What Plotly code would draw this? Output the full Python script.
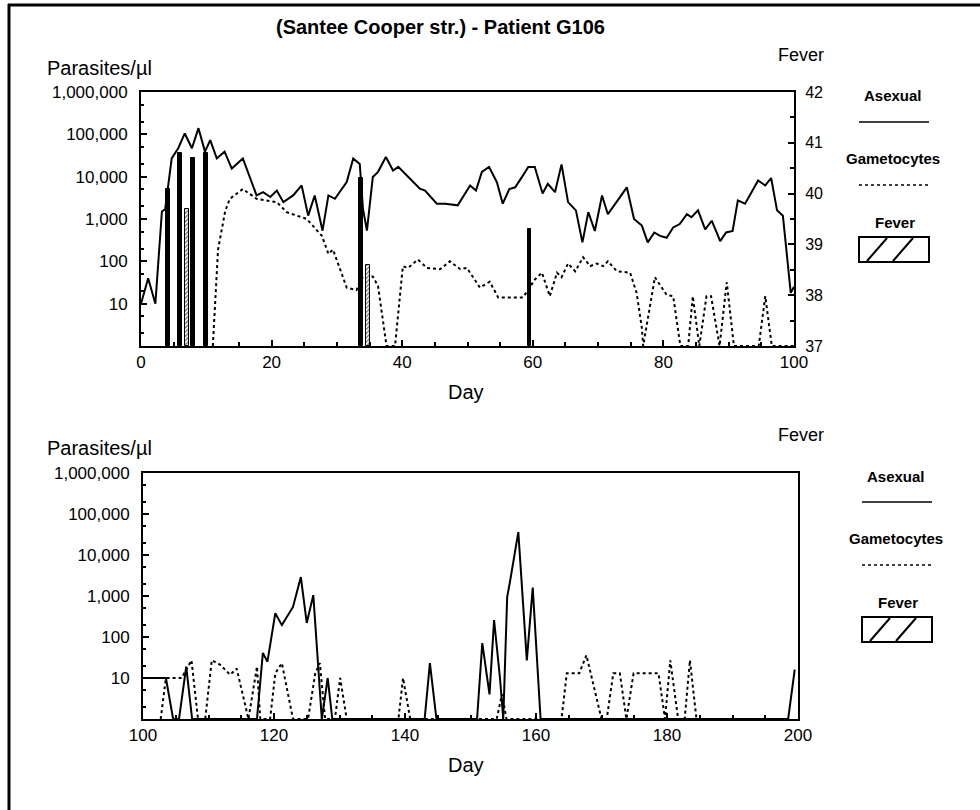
import plotly.graph_objects as go

# ---------------- DATA ----------------
# Top panel (days 0-100)
asex_top_day = [0, 1.1, 2.2, 3.2, 3.7, 4.7, 5.7, 6.7, 7.8, 8.8, 9.8, 10.6, 11.6, 12.8, 13.9, 15.6,
                17.7, 18.7, 19.8, 20.8, 21.8, 23.3, 24.6, 25.6, 26.6, 27.8, 28.7, 29.7, 31.5, 32.5,
                33.5, 34.0, 34.6, 35.5, 36.3, 37.5, 38.6, 39.4, 41.2, 42.7, 43.5, 45.3, 46.6, 48.5,
                50.4, 51.3, 52.2, 53.3, 54.5, 55.4, 56.4, 57.3, 58.5, 59.3, 60.3, 61.5, 62.3, 63.4,
                64.4, 65.4, 66.6, 67.6, 68.5, 69.5, 70.6, 71.5, 73.0, 74.4, 75.5, 76.7, 77.6, 78.6,
                79.5, 80.5, 81.5, 82.5, 83.6, 84.3, 85.3, 86.4, 87.4, 88.7, 89.6, 90.6, 91.4, 92.5,
                93.5, 94.5, 95.6, 96.5, 97.4, 98.3, 99.5, 100]
asex_top_val = [10, 40, 10, 1500, 1700, 27000, 47000, 105000, 47000, 140000, 39000, 73000, 27000,
                39000, 15500, 27000, 3600, 4300, 3300, 4700, 2500, 3600, 6200, 1200, 3600, 530, 3600,
                3000, 7500, 27000, 20000, 1700, 530, 9800, 13000, 29000, 14000, 17000, 8900, 5200,
                4700, 2300, 2300, 2100, 6200, 4700, 13000, 17000, 7400, 2300, 5100, 5600, 10700,
                17000, 17000, 4000, 6800, 4300, 19500, 2500, 1600, 280, 1450, 520, 3600, 1300, 2750,
                5600, 1000, 700, 280, 480, 400, 360, 630, 760, 1300, 1100, 1600, 570, 910, 300, 480,
                520, 2750, 2300, 4300, 8100, 6200, 9300, 1600, 1200, 18, 25]

gam_top_day = [11.0, 11.8, 12.9, 13.6, 15.6, 17.7, 20.8, 22.3, 25.4, 27.7, 28.7, 29.4, 31.5, 33.0,
               34.0, 35.5, 36.3, 37.6, 38.9, 40.1, 40.9, 42.4, 43.8, 45.8, 47.3, 48.9, 49.9, 51.9,
               53.4, 54.7, 58.5, 60.3, 61.4, 62.6, 63.7, 64.4, 65.4, 66.5, 67.7, 68.8, 69.8, 70.8,
               71.5, 72.9, 74.9, 75.9, 76.7, 76.9, 78.7, 80.5, 81.5, 82.6, 83.8, 84.5, 85.5, 86.6,
               87.3, 88.6, 89.7, 90.8, 94.6, 95.6, 96.6, 100]
gam_top_val = [1, 190, 1550, 3000, 5100, 3000, 2500, 1450, 1000, 400, 150, 190, 24, 21, 44, 44, 26,
               1, 1, 76, 70, 110, 70, 65, 100, 65, 70, 24, 33, 14, 14, 37, 54, 15, 54, 42, 89, 58,
               125, 77, 89, 77, 100, 58, 54, 18, 2.7, 1, 42, 16, 15, 1, 1, 15, 1, 15, 15, 1, 32, 1,
               1, 15, 1, 1]

fever_day = [4.1, 6.0, 7.0, 7.9, 10.0, 33.7, 34.7, 59.5]
fever_temp = [40.1, 40.8, 39.7, 40.7, 40.8, 40.3, 38.6, 39.3]

# Bottom panel (days 100-200)
asex_bot_day = [100, 103.5, 104.6, 105.5, 106.6, 107.5, 117.4, 118.3, 119.0, 120.2, 121.2, 122.9,
                124.1, 125.0, 126.0, 127.3, 128.2, 128.9, 143.0, 143.8, 144.8, 151.0, 151.8, 152.9,
                153.6, 154.5, 155.0, 155.6, 156.0, 157.3, 158.6, 159.5, 160.7, 198.5, 199.5]
asex_bot_val = [10, 10, 1, 1, 19, 1, 1, 41, 25, 380, 195, 540, 2900, 220, 1050, 1, 10, 1, 1, 23,
                1, 1, 71, 4, 260, 10, 1, 950, 2100, 36000, 27, 1600, 1, 1, 16]

gam_bot_day = [102.7, 103.5, 105.9, 107.4, 108.4, 109.5, 110.5, 111.8, 113.3, 114.3, 116.1, 117.4,
               117.9, 119.4, 120.2, 121.2, 122.9, 125.2, 126.3, 127.0, 127.8, 129.3, 130.1, 131.1,
               139.0, 139.7, 140.8, 154.0, 154.8, 155.5, 163.9, 164.7, 166.6, 167.7, 170.0, 170.8,
               171.8, 172.8, 173.8, 174.9, 178.7, 179.7, 180.5, 181.7, 182.7, 183.5, 184.5]
gam_bot_val = [1, 10, 10, 27, 1, 1, 27, 21, 12, 17, 1, 19, 1, 1, 13, 23, 1, 1, 13, 23, 1, 1, 10, 1,
               1, 10, 1, 1, 4, 1, 1, 13, 13, 36, 1, 1, 13, 13, 1, 13, 13, 1, 27, 1, 1, 27, 1]

par_ticks = [10, 100, 1000, 10000, 100000, 1000000]
par_ticktext = ["10", "100", "1,000", "10,000", "100,000", "1,000,000"]
fever_ticks = [37, 38, 39, 40, 41, 42]

# ---------------- LAYOUT HELPERS ----------------
W, H = 980, 810
FONT = "Liberation Sans, Arial, Helvetica, sans-serif"


def px(x):
    return x / W


def py(y):
    return 1 - y / H


fig = go.Figure()

line_solid = dict(color="black", width=2)
line_dot = dict(color="black", width=2, dash="dot")

fig.add_trace(go.Scatter(x=asex_top_day, y=asex_top_val, mode="lines", line=line_solid,
                         xaxis="x", yaxis="y", showlegend=False))
fig.add_trace(go.Scatter(x=gam_top_day, y=gam_top_val, mode="lines", line=line_dot,
                         xaxis="x", yaxis="y", showlegend=False))
fig.add_trace(go.Bar(x=fever_day, y=[t - 37 for t in fever_temp], base=37, width=0.6,
                     marker=dict(color="black", line=dict(color="black", width=1),
                                 pattern=dict(shape=["", "", "/", "", "", "", "/", ""],
                                              fgcolor="black", bgcolor="white", size=3,
                                              solidity=0.5)),
                     xaxis="x", yaxis="y2", showlegend=False))

fig.add_trace(go.Scatter(x=asex_bot_day, y=asex_bot_val, mode="lines", line=line_solid,
                         xaxis="x2", yaxis="y3", showlegend=False))
fig.add_trace(go.Scatter(x=gam_bot_day, y=gam_bot_val, mode="lines", line=line_dot,
                         xaxis="x2", yaxis="y3", showlegend=False))

tickfont_l = dict(family=FONT, size=17, color="black")
tickfont_r = dict(family=FONT, size=16, color="black")

xcommon = dict(showline=True, linewidth=2, linecolor="black", mirror=True, ticks="inside",
               ticklen=6, tickwidth=1.5, tickcolor="black", showgrid=False, zeroline=False,
               automargin=False, tickfont=tickfont_l,
               minor=dict(ticks="inside", ticklen=4, dtick=5, tickcolor="black"))
ylog = dict(type="log", range=[0, 6], showline=True, linewidth=2, linecolor="black", mirror=True,
            ticks="inside", ticklen=6, tickwidth=1.5, tickcolor="black", showgrid=False,
            automargin=False, tickvals=par_ticks, ticktext=par_ticktext, tickfont=tickfont_l,
            ticklabelstandoff=8,
            minor=dict(ticks="inside", ticklen=3, tickcolor="black", showgrid=False))
yfev = dict(range=[37, 42], side="right", showline=True, linewidth=2, linecolor="black",
            ticks="inside", ticklen=6, tickwidth=1.5, tickcolor="black", showgrid=False,
            zeroline=False, automargin=False, tickvals=fever_ticks, tickfont=tickfont_r,
            ticklabelstandoff=6,
            minor=dict(ticks="inside", ticklen=4, dtick=0.5, tickcolor="black"))

top_dom_x = [px(141), px(794)]
top_dom_y = [py(346), py(92)]
bot_dom_x = [px(143), px(798)]
bot_dom_y = [py(719), py(473)]

fig.update_layout(
    width=W, height=H, margin=dict(l=0, r=0, t=0, b=0, pad=0), autosize=False,
    paper_bgcolor="white", plot_bgcolor="white",
    font=dict(family=FONT, color="black"),
    bargap=0,
    xaxis=dict(domain=top_dom_x, anchor="y", range=[0, 100], tickvals=[0, 20, 40, 60, 80, 100],
               **xcommon),
    yaxis=dict(domain=top_dom_y, anchor="x", **ylog),
    yaxis2=dict(overlaying="y", anchor="x", **yfev),
    xaxis2=dict(domain=bot_dom_x, anchor="y3", range=[100, 200],
                tickvals=[100, 120, 140, 160, 180, 200], **xcommon),
    yaxis3=dict(domain=bot_dom_y, anchor="x2", **ylog),
    yaxis4=dict(overlaying="y3", anchor="x2", **yfev),
)

ann = []


def text(x, y, s, size=17, bold=False, xanchor="center"):
    ann.append(dict(x=px(x), y=py(y), xref="paper", yref="paper", text=(f"<b>{s}</b>" if bold else s),
                    showarrow=False, xanchor=xanchor, yanchor="middle",
                    font=dict(family=FONT, size=size, color="black")))


text(440, 27, "(Santee Cooper str.) - Patient G106", size=20, bold=True)
for (yp, dy) in [(0, 0), (380, 373)]:
    text(45, 68 + yp, "Parasites/µl", size=20, xanchor="left")
    text(801, 55 + yp, "Fever", size=18)
    text(466, 392 + dy, "Day", size=20)

shapes = []
# outer frame (left and top)
shapes.append(dict(type="line", xref="paper", yref="paper", x0=px(9), x1=px(9), y0=py(4), y1=0,
                   line=dict(color="black", width=3)))
shapes.append(dict(type="line", xref="paper", yref="paper", x0=px(8), x1=1, y0=py(5), y1=py(5),
                   line=dict(color="black", width=3)))

# legends
for (yo, xo) in [(0, 0), (380, 3)]:
    text(893 + xo, 96 + yo, "Asexual", size=15, bold=True)
    shapes.append(dict(type="line", xref="paper", yref="paper", x0=px(859 + xo), x1=px(929 + xo),
                       y0=py(122 + yo), y1=py(122 + yo), line=dict(color="black", width=1.5)))
    text(893 + xo, 158 + yo, "Gametocytes", size=15, bold=True)
    shapes.append(dict(type="line", xref="paper", yref="paper", x0=px(859 + xo), x1=px(929 + xo),
                       y0=py(185 + yo), y1=py(185 + yo),
                       line=dict(color="black", width=1.5, dash="dot")))
    text(895 + xo, 222 + yo, "Fever", size=15, bold=True)
    shapes.append(dict(type="rect", xref="paper", yref="paper", x0=px(859 + xo), x1=px(929 + xo),
                       y0=py(262 + yo), y1=py(237 + yo), line=dict(color="black", width=2)))
    for d in [(867, 887), (893, 913)]:
        shapes.append(dict(type="line", xref="paper", yref="paper",
                           x0=px(d[0] + xo), x1=px(d[1] + xo), y0=py(261 + yo), y1=py(238 + yo),
                           line=dict(color="black", width=2)))

fig.update_layout(annotations=ann, shapes=shapes)
fig.write_html("out.html",
               post_script="document.body.style.margin='0px';document.body.style.padding='0px';"
                           "document.documentElement.style.overflow='hidden';")
